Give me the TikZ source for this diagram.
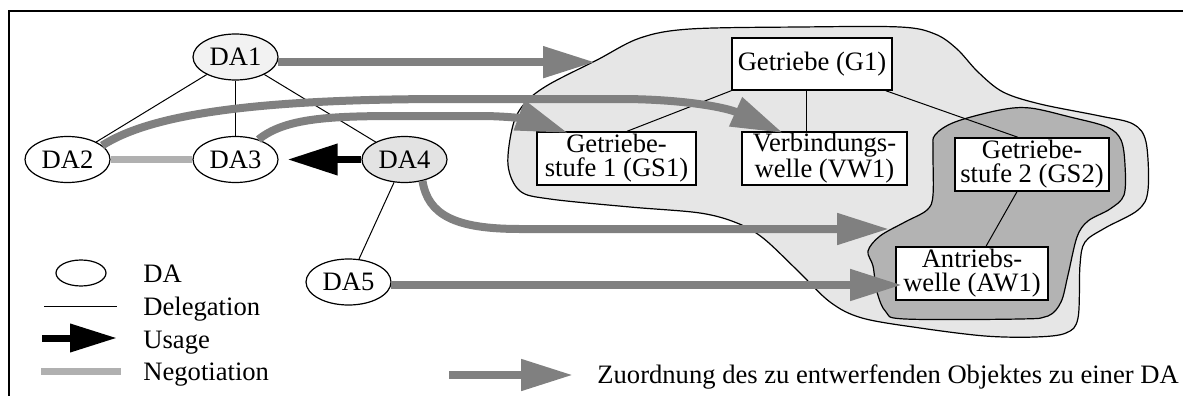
\documentclass[tikz,border=0pt]{standalone}
\usepackage{fontspec}
\setmainfont{Liberation Serif}
\usetikzlibrary{arrows.meta,shapes.geometric}
\definecolor{assign}{HTML}{808080}
\definecolor{nego}{HTML}{B0B0B0}
\definecolor{outerfill}{HTML}{E6E6E6}
\definecolor{innerfill}{HTML}{B3B3B3}
\definecolor{daonefill}{HTML}{F2F2F2}
\definecolor{dafourfill}{HTML}{E3E3E3}
\begin{document}
\begin{tikzpicture}[x=0.5pt,y=-0.5pt,
  every node/.style={font=\fontsize{13.3}{12}\selectfont},
  da/.style={ellipse,draw,line width=0.6pt,minimum width=42.5pt,minimum height=23pt,inner sep=0pt},
  objbox/.style={rectangle,draw,line width=0.7pt,fill=white,inner sep=0pt,align=center},
  deleg/.style={line width=0.5pt},
  assignarrow/.style={draw=assign,line width=4pt,-{Triangle[length=26pt,width=15pt]}},
  usearrow/.style={line width=3.5pt,-{Triangle[length=25pt,width=15pt]}},
  negoline/.style={draw=nego,line width=3.5pt},
  legtext/.style={anchor=base west,inner sep=0pt},
  blob/.style={draw,line width=0.6pt}]
\useasboundingbox (0,0) rectangle (1183,396);
% frame
\draw[line width=0.75pt] (9,396) -- (9,11) -- (1183,11);
% blobs
\filldraw[blob,fill=outerfill] plot[smooth cycle,tension=0.55] coordinates {
 (508,165) (513,125) (525,103) (548,85) (597,60) (640,38) (690,29) (800,27)
 (900,27) (935,34) (957,49) (978,72) (1003,92) (1040,104) (1100,116) (1133,124)
 (1146,142) (1148,190) (1138,210) (1105,228) (1085,242) (1080,265) (1078,318)
 (1066,333) (1035,337) (985,336) (920,328) (862,318) (830,302) (797,270)
 (763,238) (737,223) (700,213) (630,207) (550,199) (520,191)};
\filldraw[blob,fill=innerfill] plot[smooth cycle,tension=0.55] coordinates {
 (935,135) (955,122) (1000,110) (1030,108) (1070,117) (1107,127) (1121,140)
 (1125,165) (1124,195) (1110,209) (1088,221) (1077,237) (1068,275) (1061,302)
 (1048,316) (1020,319) (905,319) (886,312) (877,292) (873,266) (868,251)
 (880,236) (905,222) (927,210) (933,195) (933,150)};
% object boxes
\node[objbox,minimum width=80pt,minimum height=26pt] (G1) at (812,64) {Getriebe (G1)};
\node[objbox,minimum width=79.5pt,minimum height=26.5pt] (GS1) at (616.5,158.5) {Getriebe-\\stufe 1 (GS1)};
\node[objbox,minimum width=82.5pt,minimum height=26.5pt] (VW1) at (824.5,158.5) {Verbindungs-\\welle (VW1)};
\node[objbox,minimum width=77pt,minimum height=26.5pt] (GS2) at (1032,164.5) {Getriebe-\\stufe 2 (GS2)};
\node[objbox,minimum width=76pt,minimum height=26.5pt] (AW1) at (972,273.5) {Antriebs-\\welle (AW1)};
\draw[deleg] (G1.south west) -- ([xshift=5.25pt]GS1.north);
\draw[deleg] ([xshift=-3pt]G1.south) -- ([xshift=-3pt]G1.south |- VW1.north);
\draw[deleg] ([xshift=-3.5pt]G1.south east) -- ([xshift=-7pt]GS2.north);
\draw[deleg] ([xshift=-7.5pt]GS2.south) -- ([xshift=7pt]AW1.north);
% DA nodes
\node[da,fill=daonefill] (DA1) at (235.5,57) {DA1};
\node[da,fill=white] (DA2) at (67.5,159.5) {DA2};
\node[da,fill=white] (DA3) at (235.5,159.5) {DA3};
\node[da,fill=dafourfill] (DA4) at (404.5,159.5) {DA4};
\node[da,fill=white] (DA5) at (348.5,282) {DA5};
\draw[deleg] (DA1) -- (DA2);
\draw[deleg] (DA1) -- (DA3);
\draw[deleg] (DA1) -- (DA4);
\draw[deleg] (DA4) -- (DA5);
\draw[negoline] (DA2) -- (DA3);
\draw[usearrow,shorten >=4.5pt] (DA4.west) -- (DA3.east);
% assignment arrows
\coordinate (tipOuter) at (595,62.5);
\coordinate (tipVW) at (783,133);
\coordinate (tipGS) at (568,133);
\coordinate (tipA) at (889,229);
\coordinate (tipAW) at (902,284);
\draw[assignarrow] (DA1.-7) -- (DA1.-7 -| tipOuter);
\draw[assignarrow] (DA2.22) .. controls (150,115) and (250,99) .. (450,99) -- (620,99) .. controls (680,99) and (725,107) .. (tipVW);
\draw[assignarrow] (DA3.41) .. controls (285,118) and (330,116) .. (400,116) -- (480,116) .. controls (515,116) and (535,121) .. (tipGS);
\draw[assignarrow] (DA4.-50) .. controls (428,215) and (455,229) .. (520,229) -- (tipA);
\draw[assignarrow] (DA5.-4) -- (DA5.-4 -| tipAW);
% legend
\node[da,minimum width=25pt,minimum height=13pt] (legDA) at (81,273) {};
\node[legtext] (legDAt) at (143,282) {DA};
\coordinate (lgDa) at (44,306);
\coordinate (lgDb) at (117,306);
\draw[deleg] (lgDa) -- (lgDb);
\node[legtext] (legDel) at (143,315) {Delegation};
\coordinate (lgUa) at (42,338);
\coordinate (lgUb) at (117,338);
\draw[line width=3.5pt,-{Triangle[length=23.5pt,width=13.5pt]}] (lgUa) -- (lgUb);
\node[legtext] (legUse) at (143,348) {Usage};
\coordinate (lgNa) at (41,371);
\coordinate (lgNb) at (121,371);
\draw[negoline] (lgNa) -- (lgNb);
\node[legtext] (legNeg) at (143,380) {Negotiation};
\coordinate (lgZa) at (449,375);
\coordinate (lgZb) at (573,375);
\draw[assignarrow] (lgZa) -- (lgZb);
\node[legtext] (legZ) at (597,383) {Zuordnung des zu entwerfenden Objektes zu einer DA};
\end{tikzpicture}
\end{document}
